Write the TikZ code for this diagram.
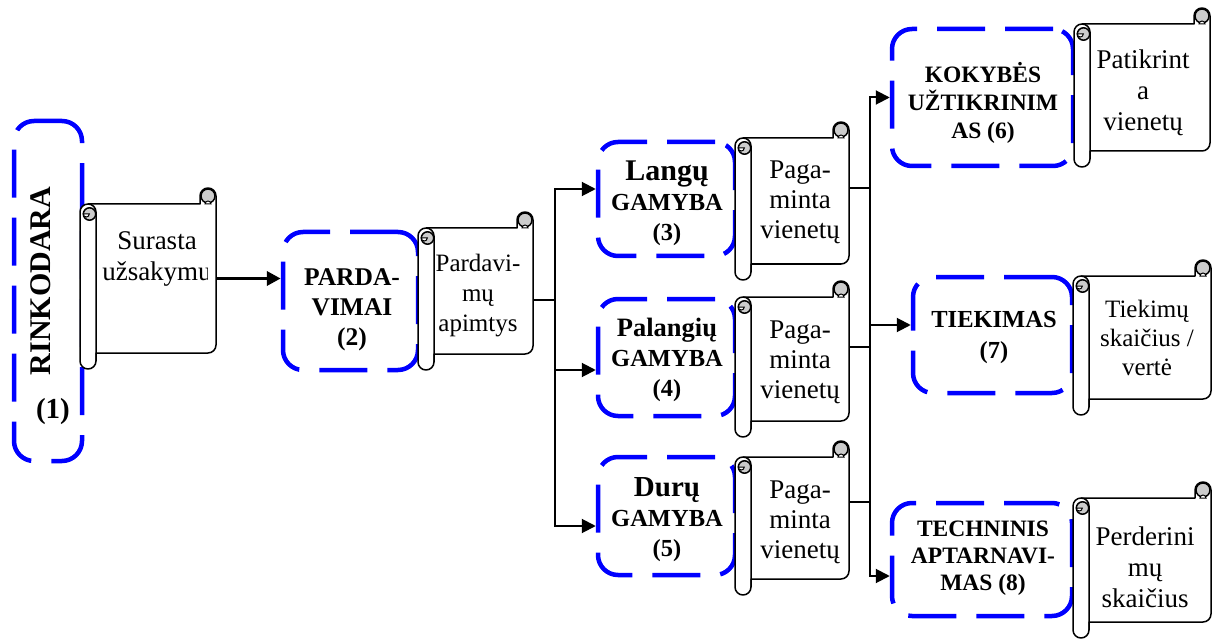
\documentclass[tikz,border=0pt]{standalone}
\usepackage{fontspec}
\setmainfont{Liberation Serif}
\usetikzlibrary{arrows.meta,calc}
\tikzset{
 dbox/.style={draw={rgb,255:red,0;green,0;blue,255}, line width=4.5pt, rounded corners=20pt, dash pattern=on 48pt off 20pt, inner sep=0pt},
 sframe/.style={inner sep=0pt, outer sep=0pt, draw=none},
 sline/.style={line width=1.5pt, line join=round},
 stxt/.style={align=center, inner sep=0pt, font=\fontsize{27}{31}\selectfont},
 btxt/.style={align=center, inner sep=0pt, font=\bfseries\fontsize{24}{29}\selectfont},
 conn/.style={line width=2pt},
 arr/.style={conn, -{Triangle[length=14pt,width=14pt]}},
}
\newcommand\hscroll[1]{%
 \draw[sline, fill=white] let \p1=(#1.north west), \p2=(#1.south east) in
  (\x1,\y1-24pt) arc[start angle=180,end angle=90,radius=8pt]
  -- (\x2-16pt,\y1-16pt) -- (\x2-16pt,\y1-8pt)
  arc[start angle=180,end angle=0,radius=8pt]
  -- (\x2,\y2+24pt) arc[start angle=0,end angle=-90,radius=8pt]
  -- (\x1+16pt,\y2+16pt) -- (\x1+16pt,\y2+8pt)
  arc[start angle=0,end angle=-180,radius=8pt] -- cycle;
 \draw[sline] let \p1=(#1.north west), \p2=(#1.south east) in
  (\x1+8pt,\y1-16pt) arc[start angle=90,end angle=0,radius=8pt] -- (\x1+16pt,\y2+8pt);
 \draw[sline, fill=gray!40] let \p1=(#1.north west) in (\x1+9.5pt,\y1-26pt) circle[radius=6.2pt];
 \draw[line width=1pt, fill=white] let \p1=(#1.north west) in (\x1+3.3pt,\y1-26pt) arc[start angle=180,end angle=360,radius=3pt] -- cycle;
 \draw[sline, fill=gray!40] let \p1=(#1.north east) in (\x1-8pt,\y1-8pt) circle[radius=7pt];
 \draw[line width=1pt, fill=white] let \p1=(#1.north east) in (\x1-5pt,\y1-16pt) arc[start angle=0,end angle=180,radius=3pt] -- cycle;
}
\begin{document}
\begin{tikzpicture}[x=1pt,y=-1pt]
\useasboundingbox (0,0) rectangle (1213,639);
% dashed process boxes
\node[dbox, minimum width=68pt, minimum height=340pt] (b1) at (48,291) {};
\node[dbox, minimum width=135pt, minimum height=138pt] (b2) at (350.5,301) {};
\node[dbox, minimum width=137pt, minimum height=114pt] (b3) at (666.5,199) {};
\node[dbox, minimum width=137pt, minimum height=117pt] (b4) at (666.5,357.5) {};
\node[dbox, minimum width=137pt, minimum height=118pt] (b5) at (666.5,516) {};
\node[dbox, minimum width=181pt, minimum height=137pt] (b6) at (982.5,97.5) {};
\node[dbox, minimum width=159pt, minimum height=116pt] (b7) at (992.5,335) {};
\node[dbox, minimum width=180pt, minimum height=113pt] (b8) at (982,559.5) {};
% box texts
\node[btxt, rotate=90, font=\bfseries\fontsize{30}{36}\selectfont] (t1) at (41,281) {RINKODARA};
\node[btxt, font=\bfseries\fontsize{29}{36}\selectfont] (t1n) at (53,412) {(1)};
\node[btxt, font=\bfseries\fontsize{25.5}{30}\selectfont] (t2) at (352,310) {PARDA-\\VIMAI\\(2)};
\node[btxt, font=\bfseries\fontsize{24.5}{30}\selectfont] (t3) at (667,203) {{\fontsize{30}{30}\selectfont Langų}\\GAMYBA\\(3)};
\node[btxt, font=\bfseries\fontsize{24.5}{30}\selectfont] (t4) at (667,360) {{\fontsize{26.5}{30}\selectfont Palangių}\\GAMYBA\\(4)};
\node[btxt, font=\bfseries\fontsize{24.5}{30}\selectfont] (t5) at (667,520) {{\fontsize{29}{30}\selectfont Durų}\\GAMYBA\\(5)};
\node[btxt, font=\bfseries\fontsize{23.5}{28}\selectfont] (t6) at (983,103) {KOKYBĖS\\UŽTIKRINIM\\AS (6)};
\node[btxt, font=\bfseries\fontsize{24.5}{31}\selectfont] (t7) at (994,337) {TIEKIMAS\\(7)};
\node[btxt, font=\bfseries\fontsize{23.5}{27}\selectfont] (t8) at (983,558) {TECHNINIS\\APTARNAVI-\\MAS (8)};
% scrolls
\node[sframe, minimum width=136pt, minimum height=181pt] (s1) at (148,278.5) {};
\node[sframe, minimum width=115pt, minimum height=158pt] (s2) at (475.5,291) {};
\node[sframe, minimum width=114pt, minimum height=158pt] (s3) at (792,201) {};
\node[sframe, minimum width=114pt, minimum height=156pt] (s4) at (792,359) {};
\node[sframe, minimum width=114pt, minimum height=154pt] (s5) at (792,518) {};
\node[sframe, minimum width=136pt, minimum height=159pt] (s6) at (1142,87.5) {};
\node[sframe, minimum width=138pt, minimum height=155pt] (s7) at (1142,337.5) {};
\node[sframe, minimum width=138pt, minimum height=156pt] (s8) at (1142,560) {};
\hscroll{s1}\hscroll{s2}\hscroll{s3}\hscroll{s4}
\hscroll{s5}\hscroll{s6}\hscroll{s7}\hscroll{s8}
% scroll texts
\begin{scope}
\clip (97,195) rectangle (207,355);
\node[stxt] (u1) at (157,259) {Surasta\\užsakymu};
\end{scope}
\node[stxt, font=\fontsize{25}{30}\selectfont] (u2) at (478,296) {Pardavi-\\mų\\apimtys};
\node[stxt, font=\fontsize{27}{30}\selectfont] (u3) at (800,202) {Paga-\\minta\\vienetų};
\node[stxt, font=\fontsize{27}{30}\selectfont] (u4) at (800,362) {Paga-\\minta\\vienetų};
\node[stxt, font=\fontsize{27}{30}\selectfont] (u5) at (800,522) {Paga-\\minta\\vienetų};
\node[stxt] (u6) at (1143,93) {Patikrint\\a\\vienetų};
\node[stxt, font=\fontsize{25}{29}\selectfont] (u7) at (1147,338) {Tiekimų\\skaičius /\\vertė};
\node[stxt] (u8) at (1145,567) {Perderini\\mų\\skaičius};
% connectors
\coordinate (j1) at (555,300);
\coordinate (j2) at (870,330);
\draw[arr, line width=3.5pt] (s1.east) -- (s1.east -| b2.west);
\draw[conn] ([yshift=-9pt]s2.east) -- (j1);
\draw[arr] (j1) |- ([yshift=10pt]b3.west);
\draw[arr] (j1) |- ([yshift=-12.5pt]b4.west);
\draw[arr] (j1) |- ([yshift=-10pt]b5.west);
\draw[conn] ([yshift=13pt]s3.east) -| (j2);
\draw[conn] ([yshift=12pt]s4.east) -| (j2);
\draw[conn] ([yshift=16pt]s5.east) -| (j2);
\draw[arr] (j2) |- (b6.west);
\draw[arr] (j2) |- ([yshift=10pt]b7.west);
\draw[arr] (j2) |- ([yshift=-16.5pt]b8.west);
\end{tikzpicture}
\end{document}
